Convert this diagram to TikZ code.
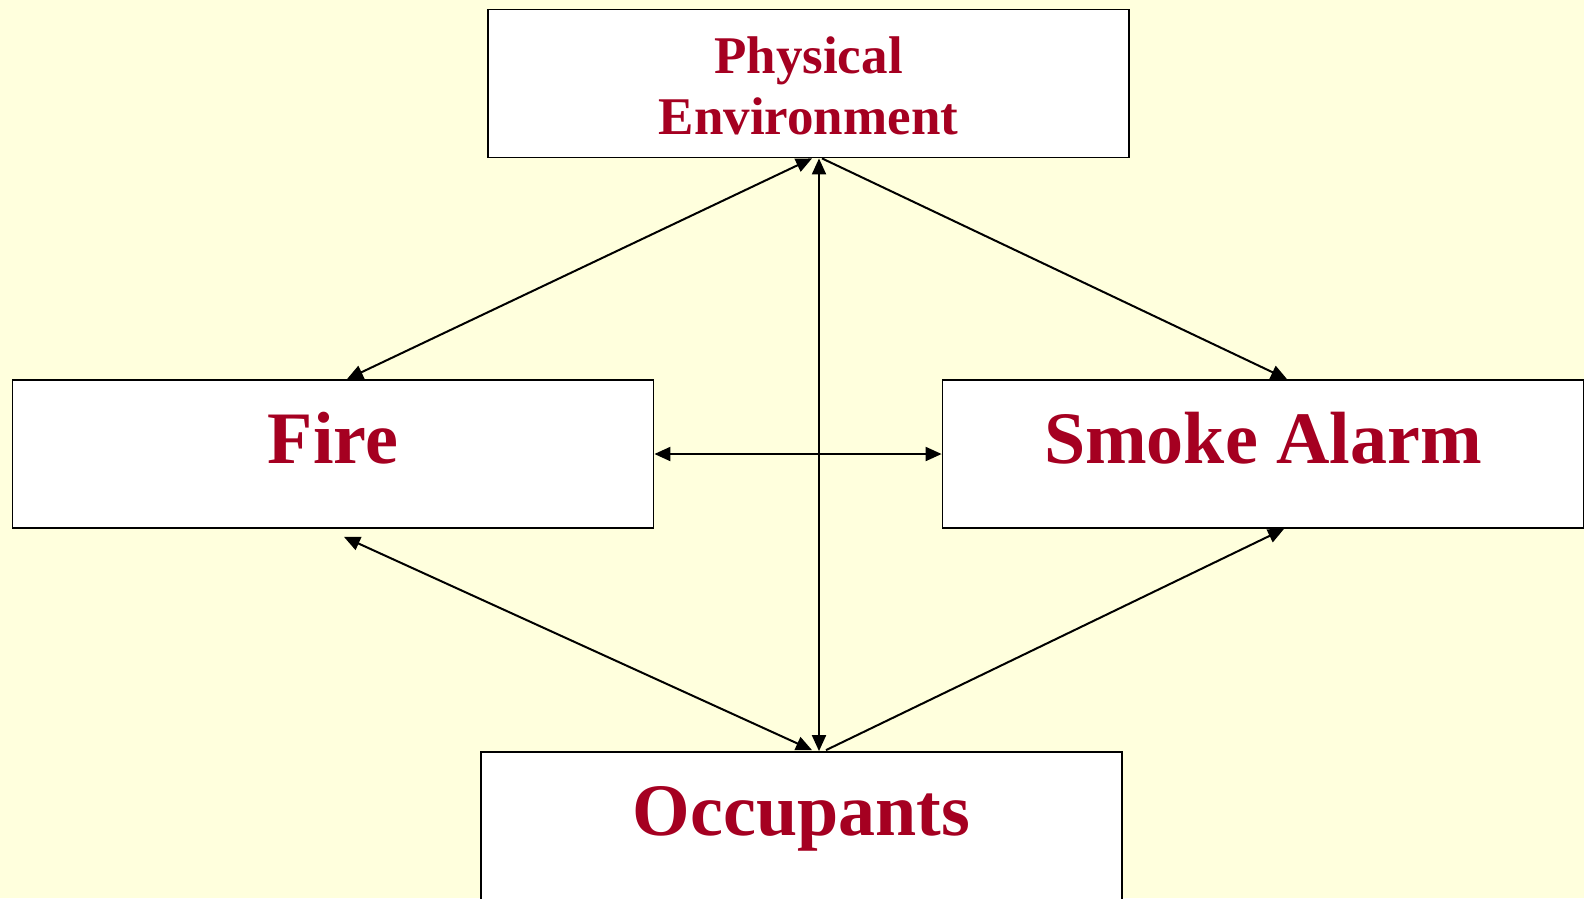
\documentclass[tikz,border=0pt]{standalone}
\usepackage{fontspec}
\setmainfont{Liberation Serif}
\usetikzlibrary{arrows.meta}
\definecolor{bgcol}{RGB}{255,255,221}
\definecolor{txtred}{RGB}{165,0,33}
\newcommand\boxlabel[3]{\parbox[c][148pt][t]{620pt}{\centering\fontsize{#1}{61pt}\selectfont\rule{0pt}{#2}#3}}
\tikzset{
  boxnode/.style={draw=black, fill=white, line width=1.8pt, inner sep=0pt,
    minimum width=641pt, minimum height=148pt, text=txtred, font=\bfseries},
  link/.style={line width=2pt, draw=black},
  both/.style={link, {Triangle[length=16pt,width=14pt]}-{Triangle[length=16pt,width=14pt]}},
  one/.style={link, -{Triangle[length=16pt,width=14pt]}}
}
\begin{document}
\begin{tikzpicture}[x=1pt,y=-1pt]
\fill[bgcol] (0,0) rectangle (1584,898);
\useasboundingbox (0,0) rectangle (1584,898);
\node[boxnode] (pe) at (808.5,83.5) {\boxlabel{53pt}{64pt}{Physical\\Environment}};
\node[boxnode] (fire) at (333,454) {\boxlabel{74pt}{83pt}{Fire}};
\node[boxnode] (smoke) at (1263,454) {\boxlabel{74pt}{83pt}{Smoke Alarm}};
\node[boxnode] (occ) at (801.5,826) {\boxlabel{74pt}{83pt}{Occupants}};
% endpoints
\coordinate (peF) at ([xshift=3.5pt]pe.south);
\coordinate (peV) at ([xshift=10.5pt]pe.south);
\coordinate (peS) at ([xshift=13.5pt]pe.south);
\coordinate (fireT) at ([xshift=14pt]fire.north);
\coordinate (fireB) at ([xshift=11pt,yshift=-8pt]fire.south);
\coordinate (smokeT) at ([xshift=24pt]smoke.north);
\coordinate (smokeB) at ([xshift=21pt]smoke.south);
\coordinate (occF) at ([xshift=10.5pt,yshift=1pt]occ.north);
\coordinate (occV) at ([xshift=17.5pt]occ.north);
\coordinate (occS) at ([xshift=24.5pt,yshift=1pt]occ.north);
% connectors
\draw[both] (peF) -- (fireT);
\draw[one] (peS) -- (smokeT);
\draw[both] (peV) -- (occV);
\draw[both] (fire.east) -- (smoke.west);
\draw[both] (fireB) -- (occF);
\draw[one] (occS) -- (smokeB);
\end{tikzpicture}
\end{document}
